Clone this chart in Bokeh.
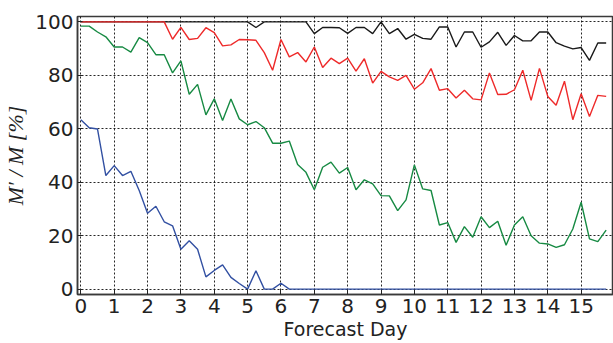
import numpy as np
from bokeh.plotting import figure
from bokeh.models import Range1d, FixedTicker
from bokeh.embed import file_html
from bokeh.resources import INLINE

# forecast lead time in days, four samples per day
days = np.arange(0, 16, 0.25)

black_vals = [100] * 21 + [97.9] + [100] * 6 + [
    95.6, 97.9, 97.9, 97.8, 95.7, 97.9, 97.9, 95.6, 100, 95.6, 97.5, 93.5,
    95.3, 93.8, 93.5, 98.1, 98.1, 90.6, 96.2, 96.2, 90.5, 92.5, 96.1, 91.2,
    94.9, 92.9, 92.9, 96.2, 96.2, 92.2, 90.9, 89.9, 90.4, 85.6, 92.1, 92.1]

red_vals = [100] * 11 + [
    93.5, 97.9, 93.4, 93.8, 97.8, 96.0, 91.0, 91.4, 93.4, 93.3, 93.1, 88.5,
    81.9, 93.4, 86.9, 88.5, 85.0, 90.6, 82.9, 86.4, 84.4, 86.4, 81.6, 86.2,
    77.1, 81.5, 79.4, 78.1, 80.0, 74.8, 77.2, 82.5, 74.4, 75.0, 71.5, 74.4,
    71.2, 70.8, 80.9, 72.8, 72.9, 74.6, 81.9, 70.6, 82.6, 72.1, 68.8, 77.8,
    63.4, 73.1, 64.6, 72.5, 72.1]

green_vals = [
    98.4, 98.4, 96.2, 94.4, 90.6, 90.6, 88.7, 94.1, 92.2, 87.7, 87.7, 80.9,
    85.4, 72.9, 76.6, 65.2, 71.2, 63.1, 71.1, 63.7, 61.5, 62.7, 60.4, 54.6,
    54.6, 55.4, 46.6, 43.7, 37.2, 45.6, 47.5, 43.4, 45.5, 37.2, 40.9, 39.4,
    35.0, 34.9, 29.4, 33.4, 46.5, 37.5, 36.9, 24.0, 24.9, 17.5, 23.4, 19.4,
    27.1, 23.0, 25.4, 16.4, 24.0, 27.1, 20.0, 17.2, 16.9, 15.6, 16.6, 22.5,
    32.5, 18.8, 17.8, 22.1]

blue_vals = [
    63.4, 60.4, 59.9, 42.5, 46.2, 42.5, 44.1, 36.9, 28.4, 31.0, 25.2, 23.7,
    14.9, 18.1, 14.9, 4.6, 7.0, 9.1, 4.4, 2.1, 0.0, 6.9, 0.0, 0.0, 2.2] + [0.0] * 39

x_ticks = list(range(0, 16))
y_ticks = [0, 20, 40, 60, 80, 100]

p = figure(width=613, height=343, output_backend="svg", toolbar_location=None,
           x_range=Range1d(-0.1, 15.97), y_range=Range1d(-2, 102),
           min_border_left=76, min_border_right=0, min_border_top=16,
           min_border_bottom=49)
p.background_fill_color = "white"
p.border_fill_color = "white"
p.outline_line_color = "#3a3a3a"
p.outline_line_width = 1.5

font = "DejaVu Sans"
for ax in (p.xaxis[0], p.yaxis[0]):
    ax.axis_line_color = "#3a3a3a"
    ax.axis_line_width = 1.5
    ax.major_tick_in = 5
    ax.major_tick_out = 0
    ax.major_tick_line_color = "#222222"
    ax.minor_tick_line_color = None
    ax.major_label_text_font = font
    ax.major_label_text_font_size = "20px"
    ax.major_label_text_color = "#222222"
    ax.axis_label_text_color = "#222222"

p.xaxis.ticker = FixedTicker(ticks=x_ticks)
p.yaxis.ticker = FixedTicker(ticks=y_ticks)
p.xaxis.major_label_standoff = 4
p.yaxis.major_label_standoff = 4

p.xaxis.axis_label = "Forecast Day"
p.xaxis.axis_label_text_font = font
p.xaxis.axis_label_text_font_style = "normal"
p.xaxis.axis_label_text_font_size = "19px"
p.xaxis.axis_label_standoff = 2

p.yaxis.axis_label = "M\u2032 / M [%]"
p.yaxis.axis_label_text_font = "Liberation Serif"
p.yaxis.axis_label_text_font_style = "italic"
p.yaxis.axis_label_text_font_size = "22px"
p.yaxis.axis_label_standoff = 4

for g in (p.xgrid[0], p.ygrid[0]):
    g.grid_line_color = "black"
    g.grid_line_dash = "2 2"
    g.grid_line_width = 1
    g.grid_line_alpha = 0.85

p.line(days, black_vals, line_color="#1a1a1a", line_width=1.4)
p.line(days, red_vals, line_color="#ee2a2a", line_width=1.4)
p.line(days, green_vals, line_color="#178a43", line_width=1.4)
p.line(days, blue_vals, line_color="#3250a2", line_width=1.4)

open("out.html", "w").write(file_html(p, INLINE))
